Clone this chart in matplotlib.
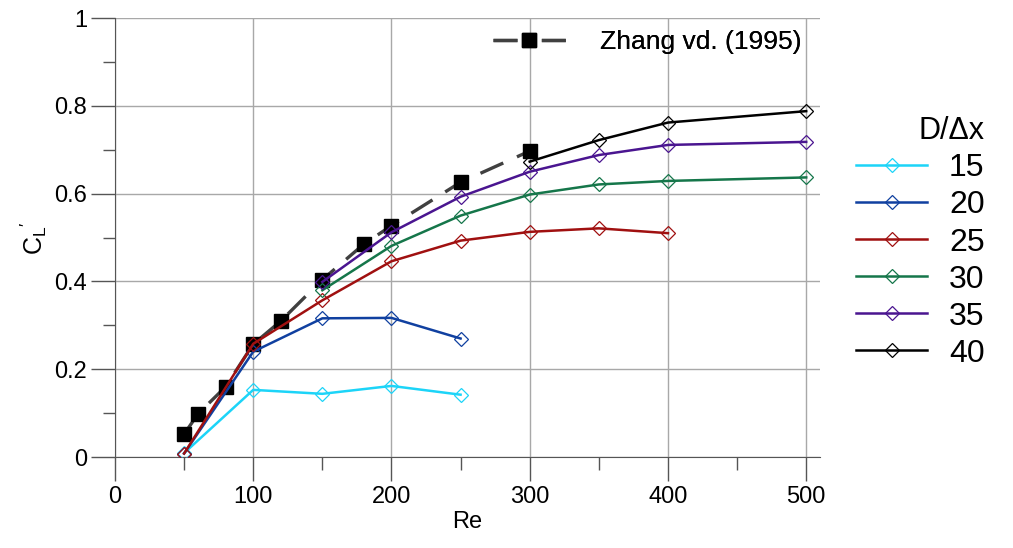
import matplotlib.pyplot as plt
from matplotlib.lines import Line2D
from matplotlib.ticker import MultipleLocator, FormatStrFormatter

plt.rcParams['font.family'] = ['Liberation Sans', 'DejaVu Sans']
plt.rcParams['mathtext.fontset'] = 'custom'
plt.rcParams['mathtext.rm'] = 'Liberation Sans'
plt.rcParams['mathtext.it'] = 'Liberation Sans'

# Zhang vd. (1995) reference data
zhang_re = [50, 60, 80, 100, 120, 150, 180, 200, 250, 300]
zhang_cl = [0.052, 0.098, 0.160, 0.257, 0.310, 0.404, 0.485, 0.527, 0.626, 0.697]

# present results for each resolution D/dx
res_labels = ['15', '20', '25', '30', '35', '40']
re_15 = [50, 100, 150, 200, 250]
cl_15 = [0.009, 0.153, 0.144, 0.162, 0.142]
re_20 = [50, 100, 150, 200, 250]
cl_20 = [0.008, 0.240, 0.316, 0.317, 0.270]
re_25 = [50, 100, 150, 200, 250, 300, 350, 400]
cl_25 = [0.008, 0.258, 0.357, 0.446, 0.493, 0.513, 0.521, 0.510]
re_30 = [150, 200, 250, 300, 350, 400, 500]
cl_30 = [0.380, 0.481, 0.550, 0.598, 0.621, 0.629, 0.637]
re_35 = [150, 200, 250, 300, 350, 400, 500]
cl_35 = [0.399, 0.512, 0.593, 0.650, 0.688, 0.711, 0.718]
re_40 = [300, 350, 400, 500]
cl_40 = [0.673, 0.722, 0.762, 0.788]

colors = ['#1cd4f8', '#1040a0', '#a01010', '#15764a', '#4a1590', '#000000']

fig = plt.figure(figsize=(10.13, 5.48), dpi=100)
ax = fig.add_axes([0.1135, 0.166, 0.696, 0.801])

ax.plot(zhang_re, zhang_cl, color='#404040', lw=2.4, dashes=(7.5, 4.5),
        marker='s', ms=10, mfc='black', mec='black', zorder=2)

series = [(re_15, cl_15), (re_20, cl_20), (re_25, cl_25),
          (re_30, cl_30), (re_35, cl_35), (re_40, cl_40)]
handles = []
for (x, y), c, lab in zip(series, colors, res_labels):
    h, = ax.plot(x, y, color=c, lw=1.8, marker='D', ms=7, mfc='none',
                 mec=c, mew=0.9, label=lab, zorder=3)
    handles.append(h)

ax.set_xlim(0, 510)
ax.set_ylim(0, 1)
ax.xaxis.set_major_locator(MultipleLocator(100))
ax.xaxis.set_minor_locator(MultipleLocator(50))
ax.yaxis.set_major_locator(MultipleLocator(0.2))
ax.yaxis.set_minor_locator(MultipleLocator(0.1))
ax.yaxis.set_major_formatter(FormatStrFormatter('%g'))
ax.grid(True, which='major', color='#a8a8a8', lw=1.0)
ax.set_axisbelow(True)
for s in ['top', 'right']:
    ax.spines[s].set_visible(False)
for s in ['left', 'bottom']:
    ax.spines[s].set_color('#555555')
ax.tick_params(which='major', length=17, width=1, color='#555555',
               labelsize=17, direction='out')
ax.tick_params(which='minor', length=9, width=1, color='#555555', direction='out')
ax.tick_params(axis='x', pad=4)
ax.tick_params(axis='y', pad=3)

ax.set_xlabel('Re', fontsize=17, labelpad=2)
ax.set_ylabel(r"C$_\mathregular{L}$$'$", fontsize=18, labelpad=4)

# legend proxy so the dashes sit on both sides of the square
zh_proxy = Line2D([], [], color='#404040', lw=2.4, dashes=(7.2, 7.3),
                  marker='s', ms=10, mfc='black', mec='black')
leg1 = ax.legend([zh_proxy], ['Zhang vd. (1995)'], loc='upper right',
                 bbox_to_anchor=(1.0, 1.015), frameon=False, fontsize=19,
                 handlelength=2.77, handletextpad=1.3, borderaxespad=0.3)
ax.add_artist(leg1)

leg2 = fig.legend(handles, res_labels, loc='upper left',
                  bbox_to_anchor=(0.817, 0.84), frameon=False, fontsize=23,
                  title='D/\u0394x', title_fontsize=22, handlelength=2.2,
                  handletextpad=0.7, labelspacing=0.22)
leg2._legend_box.align = 'right'

fig.savefig('out.png', dpi=100)
